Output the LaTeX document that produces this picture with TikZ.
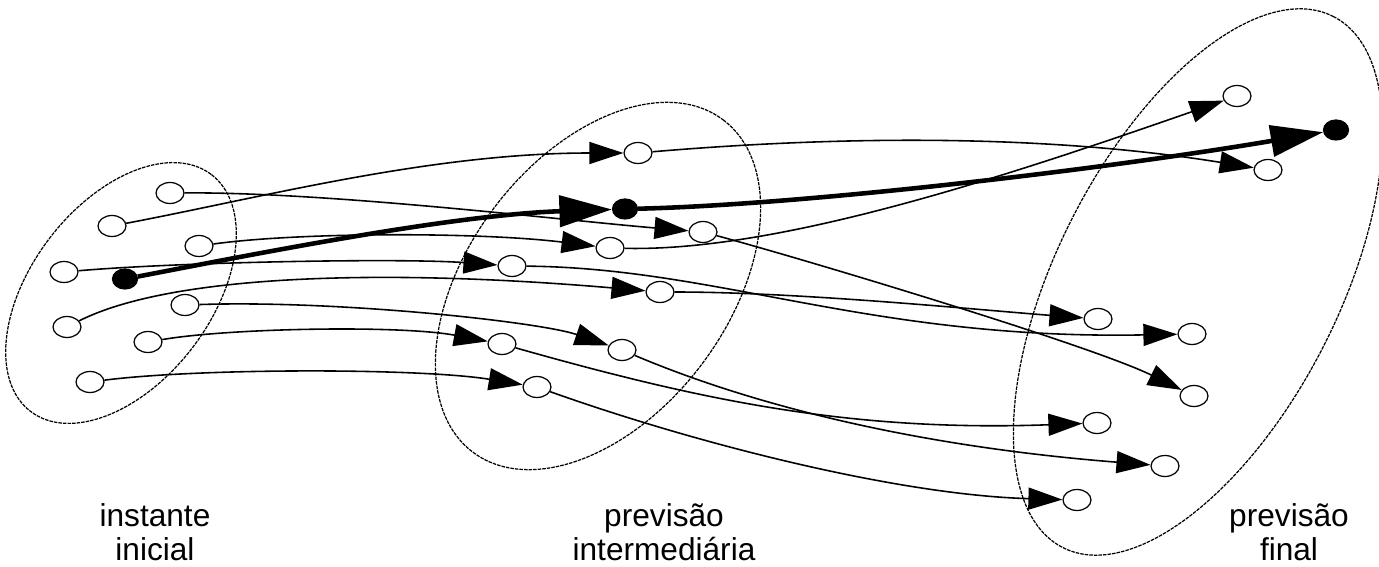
\documentclass[tikz,border=0pt]{standalone}
\usepackage{fontspec}
\setmainfont{Liberation Sans}
\usetikzlibrary{shapes.geometric,arrows.meta}

\begin{document}
\begin{tikzpicture}[x=0.02cm,y=-0.02cm]
  \tikzstyle{w}=[ellipse,draw,fill=white,line width=0.7pt,minimum width=0.56cm,minimum height=0.42cm,inner sep=0]
  \tikzstyle{b}=[ellipse,draw,fill=black,line width=0.7pt,minimum width=0.5cm,minimum height=0.4cm,inner sep=0]
  \tikzstyle{tr}=[line width=0.9pt,-{Triangle[length=0.68cm,width=0.44cm]}]
  \tikzstyle{ct}=[line width=2.6pt,-{Triangle[length=1.05cm,width=0.62cm]}]
  \tikzstyle{reg}=[line width=0.7pt,dash pattern=on 2pt off 0.6pt]
  \tikzstyle{lab}=[align=center,font=\fontsize{18}{19.5}\selectfont]

  \useasboundingbox (0,0) rectangle (1379,567);

  \draw[reg,rotate around={52.6:(121,293)}] (121,293) ellipse [x radius=149,y radius=90];
  \draw[reg,rotate around={53:(598,286)}] (598,286) ellipse [x radius=208,y radius=130];
  \draw[reg,rotate around={63:(1198,282)}] (1198,282) ellipse [x radius=298,y radius=141];

  \node[w] (i1) at (170,193) {};
  \node[w] (i2) at (112,226) {};
  \node[w] (i3) at (199,246) {};
  \node[w] (i4) at (64,272) {};
  \node[b] (i5) at (125,279) {};
  \node[w] (i6) at (185,305) {};
  \node[w] (i7) at (67,327) {};
  \node[w] (i8) at (148,342) {};
  \node[w] (i9) at (90,382) {};

  \node[w] (m1) at (638,153) {};
  \node[b] (m2) at (625,209) {};
  \node[w] (m3) at (703,232) {};
  \node[w] (m4) at (610,248) {};
  \node[w] (m5) at (512,266) {};
  \node[w] (m6) at (660,292) {};
  \node[w] (m7) at (502,344) {};
  \node[w] (m8) at (622,350) {};
  \node[w] (m9) at (537,387) {};

  \node[w] (f1) at (1237,96) {};
  \node[b] (f2) at (1336,130) {};
  \node[w] (f3) at (1268,170) {};
  \node[w] (f4) at (1098,319) {};
  \node[w] (f5) at (1192,334) {};
  \node[w] (f6) at (1194,396) {};
  \node[w] (f7) at (1097,423) {};
  \node[w] (f8) at (1165,466) {};
  \node[w] (f9) at (1077,500) {};

  \draw[tr] (i1) .. controls (330,192) and (560,220) .. (m3);
  \draw[tr] (m3) .. controls (800,258) and (1090,345) .. (f6);
  \draw[tr] (i2) .. controls (260,198) and (430,153) .. (m1);
  \draw[tr] (m1) .. controls (850,135) and (1050,135) .. (f3);
  \draw[tr] (i3) .. controls (300,232) and (480,232) .. (m4);
  \draw[tr] (m4) .. controls (780,252) and (1010,175) .. (f1);
  \draw[tr] (i4) .. controls (180,262) and (400,258) .. (m5);
  \draw[tr] (m5) .. controls (720,268) and (870,340) .. (f5);
  \draw[tr] (i6) .. controls (340,300) and (540,322) .. (m8);
  \draw[tr] (m8) .. controls (740,400) and (900,445) .. (f8);
  \draw[tr] (i7) .. controls (170,275) and (380,268) .. (m6);
  \draw[tr] (m6) .. controls (800,292) and (980,310) .. (f4);
  \draw[tr] (i8) .. controls (230,328) and (400,325) .. (m7);
  \draw[tr] (m7) .. controls (700,400) and (850,432) .. (f7);
  \draw[tr] (i9) .. controls (200,368) and (420,368) .. (m9);
  \draw[tr] (m9) .. controls (700,445) and (900,495) .. (f9);
  \draw[ct] (i5) .. controls (250,255) and (450,215) .. (m2);
  \draw[ct] (m2) .. controls (800,205) and (1100,170) .. (f2);

  \node[lab] (t1) at (155,532) {instante\\inicial};
  \node[lab] (t2) at (664,532) {previsão\\intermediária};
  \node[lab] (t3) at (1289,532) {previsão\\final};
\end{tikzpicture}
\end{document}
